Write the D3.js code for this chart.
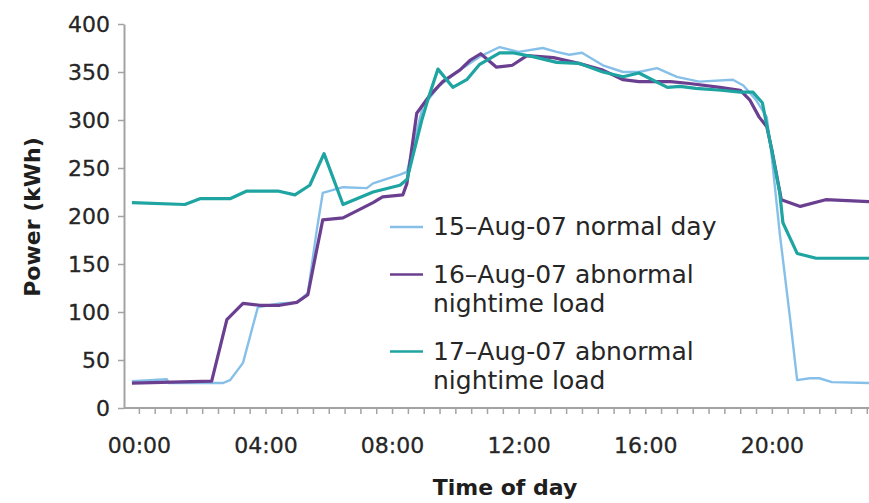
<!DOCTYPE html>
<html>
<head>
<meta charset="utf-8">
<script src="https://cdn.jsdelivr.net/npm/d3@7"></script>
<style>
  body { margin: 0; background: #fff; }
  svg { display: block; font-family: "DejaVu Sans", sans-serif; }
</style>
</head>
<body>
<div id="chart"></div>
<script>
// Data (hours of day, power in kWh)
var normalHours = [-0.22, 0.88, 0.95, 2.65, 2.88, 3.29, 3.76, 4.45, 5.0, 5.34, 5.62, 5.81, 6.45, 7.2, 7.4, 8.25, 8.47, 8.97, 9.5, 10.05, 10.77, 11.4, 12.0, 12.76, 13.2, 13.6, 14.0, 14.66, 15.3, 15.8, 16.37, 17.0, 17.7, 18.77, 19.1, 19.5, 19.84, 20.0, 20.25, 20.57, 20.8, 21.2, 21.5, 21.9, 23.1];
var normalPower = [28, 30, 26, 26, 29, 47, 105, 109, 110, 120, 185, 224, 230, 229, 234, 243, 246, 314, 336, 350, 366, 376, 371, 375, 371, 368, 370, 357, 350, 350, 354, 345, 340, 342, 336, 321, 303, 261, 182, 95, 29, 31, 31, 27, 26];

var aug16Hours = [-0.22, 2.3, 2.78, 3.29, 3.82, 4.45, 4.99, 5.34, 5.62, 5.81, 6.45, 7.4, 7.7, 8.34, 8.47, 8.78, 9.2, 9.6, 10.14, 10.46, 10.8, 11.3, 11.8, 12.26, 13.1, 13.9, 14.66, 15.3, 15.8, 16.8, 17.4, 18.36, 19.0, 19.3, 19.6, 19.84, 20.0, 20.3, 20.9, 21.7, 23.1];
var aug16Power = [26, 28, 92, 109, 107, 107, 110, 118, 165, 196, 198, 214, 220, 222, 234, 307, 326, 340, 352, 362, 369, 355, 357, 367, 365, 359, 352, 342, 340, 340, 338, 334, 331, 321, 303, 293, 269, 217, 210, 217, 215];

var aug17Hours = [-0.22, 1.45, 1.93, 2.88, 3.41, 4.39, 4.93, 5.4, 5.85, 6.45, 7.4, 8.25, 8.47, 8.94, 9.13, 9.45, 9.92, 10.36, 10.77, 11.4, 11.8, 12.45, 13.2, 13.9, 14.66, 15.3, 15.8, 16.7, 17.1, 17.6, 18.4, 19.0, 19.4, 19.7, 20.0, 20.25, 20.35, 20.8, 21.4, 23.1];
var aug17Power = [214, 212, 218, 218, 226, 226, 222, 232, 265, 212, 225, 232, 238, 300, 321, 353, 334, 342, 358, 370, 370, 366, 360, 359, 350, 345, 349, 334, 335, 333, 331, 329, 329, 318, 268, 224, 193, 161, 156, 156];

var seriesNames = ["normal", "aug16", "aug17"];
var legendLabels = [["15–Aug-07 normal day"], ["16–Aug-07 abnormal", "nightime load"], ["17–Aug-07 abnormal", "nightime load"]];
var colors = {normal: "#86c0e9", aug16: "#6b3f90", aug17: "#1ea4a1"};
var widths = {normal: 2.4, aug16: 3.2, aug17: 3.2};

var yTicks = [0, 50, 100, 150, 200, 250, 300, 350, 400];
var xLabelHours = [0, 4, 8, 12, 16, 20];

var series = [
    {name: "normal", values: normalHours.map(function(h, i) { return {h: h, v: normalPower[i]}; })},
    {name: "aug16", values: aug16Hours.map(function(h, i) { return {h: h, v: aug16Power[i]}; })},
    {name: "aug17", values: aug17Hours.map(function(h, i) { return {h: h, v: aug17Power[i]}; })}
];

// Screen variables
var width = 869, height = 503;
var plot = {left: 124, right: 869, top: 24, bottom: 408};

var svg = d3.select("#chart")
            .append("svg")
            .attr("width", width)
            .attr("height", height);

// Scales (chart is cut off on the right, a bit after 23:00)
var x = d3.scaleLinear()
          .domain([-0.47, 23.07])
          .range([plot.left, plot.right]);

var y = d3.scaleLinear()
          .domain([0, 400])
          .range([plot.bottom, plot.top]);

// Lines
var line = d3.line()
             .x(function(d) { return x(d.h); })
             .y(function(d) { return y(d.v); });

svg.append("g")
   .selectAll("path")
   .data(series)
   .enter().append("path")
   .attr("d", function(d) { return line(d.values); })
   .attr("fill", "none")
   .attr("stroke", function(d) { return colors[d.name]; })
   .attr("stroke-width", function(d) { return widths[d.name]; })
   .attr("stroke-linejoin", "round");

// Axes
var leftAxis = d3.axisLeft(y)
                 .tickValues(yTicks)
                 .tickSize(6)
                 .tickSizeOuter(0)
                 .tickPadding(8);

var bottomAxis = d3.axisBottom(x)
                   .tickValues(d3.range(0, 23.5, 0.5))
                   .tickSize(6)
                   .tickSizeOuter(0)
                   .tickPadding(23)
                   .tickFormat(function(d) {
                       return xLabelHours.indexOf(d) >= 0 ? d3.format("02d")(d) + ":00" : "";
                   });

var gy = svg.append("g")
            .attr("transform", "translate(" + plot.left + ",0)")
            .call(leftAxis);

var gx = svg.append("g")
            .attr("transform", "translate(0," + plot.bottom + ")")
            .call(bottomAxis);

[gx, gy].forEach(function(g) {
    g.select(".domain").attr("stroke", "#a3a3a3").attr("stroke-width", 2);
    g.selectAll(".tick line").attr("stroke", "#a3a3a3").attr("stroke-width", 1.5);
    g.selectAll(".tick text")
     .attr("font-family", "DejaVu Sans, sans-serif")
     .attr("font-size", 22)
     .attr("fill", "#262626")
     .attr("stroke", "#262626")
     .attr("stroke-width", 0.3);
});
// domain line of x axis starts at the y axis
gx.select(".domain").attr("d", "M" + plot.left + ",0H" + plot.right);

// Axis titles
svg.append("text")
   .attr("x", 505)
   .attr("y", 495)
   .attr("text-anchor", "middle")
   .attr("font-size", 22)
   .attr("font-weight", "bold")
   .attr("fill", "#1e1e1e")
   .text("Time of day");

svg.append("text")
   .attr("transform", "translate(40,217) rotate(-90)")
   .attr("text-anchor", "middle")
   .attr("font-size", 22)
   .attr("font-weight", "bold")
   .attr("fill", "#1e1e1e")
   .text("Power (kWh)");

// Legend
var legend = svg.append("g");
var lineHeight = 29.5, itemGap = 18;
var baseline = 235;
legendLabels.forEach(function(lines, i) {
    var item = legend.append("g");
    item.append("line")
        .attr("x1", 390)
        .attr("x2", 423)
        .attr("y1", baseline - 8)
        .attr("y2", baseline - 8)
        .attr("stroke", colors[seriesNames[i]])
        .attr("stroke-width", 2.4);
    item.selectAll("text")
        .data(lines)
        .enter().append("text")
        .attr("x", 433)
        .attr("y", function(d, j) { return baseline + j * lineHeight; })
        .attr("font-size", 25)
        .attr("fill", "#262626")
        .text(function(d) { return d; });
    baseline += lines.length * lineHeight + itemGap;
});
</script>
</body>
</html>
